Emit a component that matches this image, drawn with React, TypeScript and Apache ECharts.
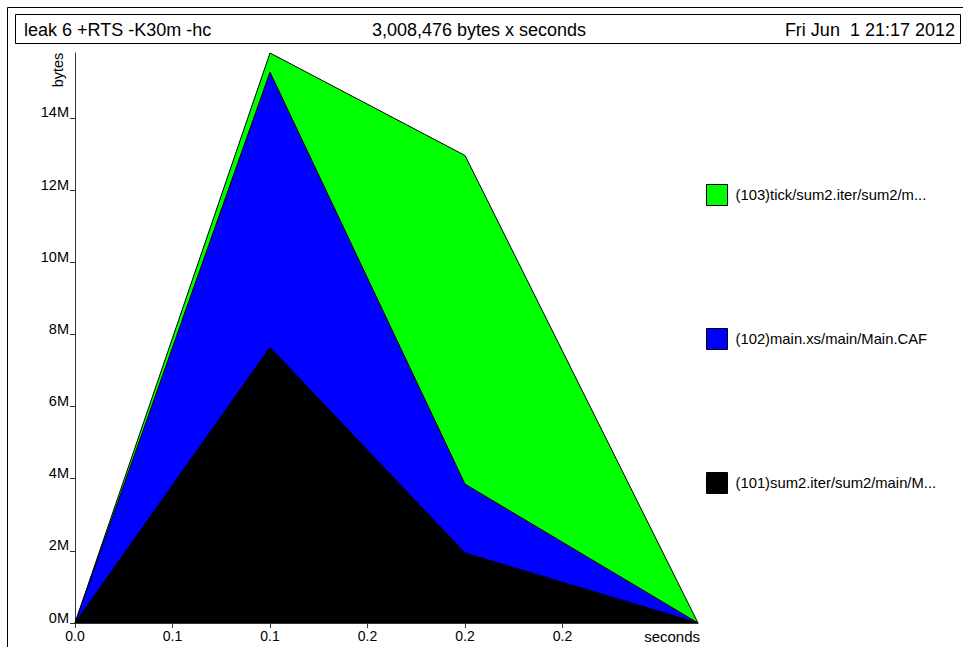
import React, { useEffect, useRef } from "react";
import * as echarts from "echarts";

const times = [0, 0.1, 0.2, 0.3195];
const sum2Iter = [0, 7.64, 1.94, 0];
const mainXs = [0, 7.63, 1.91, 0];
const tickSum2 = [0, 0.53, 9.11, 0];
const xTickValues = [0, 0.05, 0.1, 0.15, 0.2, 0.25];
const xTickLabels = ["0.0", "0.1", "0.1", "0.2", "0.2", "0.2"];
const yTickValues = [0, 2, 4, 6, 8, 10, 12, 14];
const seriesNames = [
  "(101)sum2.iter/sum2/main/M...",
  "(102)main.xs/main/Main.CAF",
  "(103)tick/sum2.iter/sum2/m...",
];
const seriesColors = ["#000000", "#0000ff", "#00ff00"];
const headerLeft = "leak 6 +RTS -K30m -hc";
const headerCenter = "3,008,476 bytes x seconds";
const headerRight = "Fri Jun  1 21:17 2012";

const FONT = "'Liberation Sans', Arial, Helvetica, sans-serif";

export default function App() {
  const ref = useRef<HTMLDivElement>(null);
  useEffect(() => {
    if (!ref.current) return;
    const chart = echarts.init(ref.current, null, { renderer: "svg" });
    const values = [sum2Iter, mainXs, tickSum2];
    // cumulative tops (manual stacking on a value x-axis)
    const cumulative: number[][] = [];
    values.forEach((vals, i) => {
      cumulative.push(
        vals.map((v, k) => +(v + (i > 0 ? cumulative[i - 1][k] : 0)).toFixed(4))
      );
    });
    const series = values.map((_, i) => ({
      name: seriesNames[i],
      type: "line",
      symbol: "none",
      data: times.map((t, k) => [t, cumulative[i][k]]),
      itemStyle: { color: seriesColors[i] },
      lineStyle: { color: "#000", width: 1 },
      areaStyle: { color: seriesColors[i], opacity: 1, origin: "start" },
      z: 10 - i,
    }));
    chart.setOption({
      animation: false,
      textStyle: { fontFamily: FONT },
      grid: { left: 75, right: 265, top: 53, bottom: 24 },
      xAxis: {
        type: "value",
        min: 0,
        max: 0.3195,
        splitLine: { show: false },
        axisLine: { show: true, lineStyle: { color: "#333", width: 1 } },
        axisTick: {
          show: true,
          length: 5,
          customValues: xTickValues,
          lineStyle: { color: "#333" },
        },
        axisLabel: {
          customValues: xTickValues,
          color: "#000",
          fontSize: 14,
          fontFamily: FONT,
          margin: 6,
          formatter: (v: number) => {
            const idx = xTickValues.findIndex((t) => Math.abs(t - v) < 1e-9);
            return idx >= 0 ? xTickLabels[idx] : "";
          },
        },
      },
      yAxis: {
        type: "value",
        min: 0,
        max: 15.8,
        splitLine: { show: false },
        axisLine: { show: true, lineStyle: { color: "#333", width: 1 } },
        axisTick: {
          show: true,
          length: 5,
          customValues: yTickValues,
          lineStyle: { color: "#333" },
        },
        axisLabel: {
          customValues: yTickValues,
          color: "#000",
          fontSize: 14.5,
          fontFamily: FONT,
          margin: 6,
          verticalAlign: "bottom",
          lineHeight: 11,
          formatter: (v: number) => `${v}M`,
        },
      },
      legend: {
        left: 706,
        top: 184,
        orient: "vertical",
        padding: 0,
        itemWidth: 21,
        itemHeight: 21,
        itemGap: 122,
        icon: "rect",
        data: [seriesNames[2], seriesNames[1], seriesNames[0]],
        itemStyle: { borderColor: "#000", borderWidth: 1 },
        textStyle: {
          color: "#000",
          fontSize: 14.8,
          fontFamily: FONT,
          padding: [0, 0, 0, 3],
        },
        selectedMode: false,
      },
      graphic: [
        {
          type: "rect",
          shape: { x: 7.5, y: 7.5, width: 1000, height: 700 },
          style: { fill: "none", stroke: "#000", lineWidth: 1 },
          silent: true,
        },
        {
          type: "rect",
          shape: { x: 15.5, y: 14.5, width: 945, height: 29 },
          style: { fill: "#fff", stroke: "#000", lineWidth: 1 },
          silent: true,
        },
        {
          type: "text",
          x: 24,
          y: 30,
          style: {
            text: headerLeft,
            fontSize: 18,
            fontFamily: FONT,
            fill: "#000",
            align: "left",
            verticalAlign: "middle",
          },
        },
        {
          type: "text",
          x: 479,
          y: 30,
          style: {
            text: headerCenter,
            fontSize: 18,
            fontFamily: FONT,
            fill: "#000",
            align: "center",
            verticalAlign: "middle",
          },
        },
        {
          type: "text",
          x: 955,
          y: 30,
          style: {
            text: headerRight,
            fontSize: 18,
            fontFamily: FONT,
            fill: "#000",
            align: "right",
            verticalAlign: "middle",
          },
        },
        {
          type: "text",
          x: 58,
          y: 70,
          rotation: Math.PI / 2,
          style: {
            text: "bytes",
            fontSize: 14.5,
            fontFamily: FONT,
            fill: "#000",
            align: "center",
            verticalAlign: "middle",
          },
        },
        {
          type: "text",
          x: 700,
          y: 636,
          style: {
            text: "seconds",
            fontSize: 15,
            fontFamily: FONT,
            fill: "#000",
            align: "right",
            verticalAlign: "middle",
          },
        },
      ],
      series,
    });
    return () => chart.dispose();
  }, []);
  return (
    <div
      ref={ref}
      style={{
        position: "fixed",
        left: 0,
        top: 0,
        width: 963,
        height: 647,
        background: "#fff",
      }}
    />
  );
}
